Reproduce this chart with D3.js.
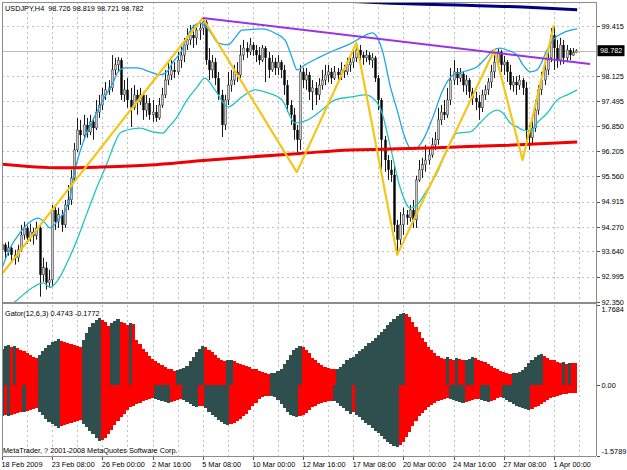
<!DOCTYPE html>
<html><head><meta charset="utf-8">
<script src="https://cdn.jsdelivr.net/npm/d3@7"></script>
<style>
body{margin:0;background:#fff}
svg{display:block}
text{font-family:"Liberation Sans",Arial,sans-serif;font-size:7.3px;fill:#000}
</style>
</head><body>
<svg id="c" width="627" height="470"></svg>
<script>
// ---------------- DATA ----------------
const symbolTitle = "USDJPY,H4  98.726 98.819 98.721 98.782";
const gatorTitle = "Gator(12,6,3) 0.4743 -0.1772";
const copyright = "MetaTrader, ? 2001-2008 MetaQuotes Software Corp.";

const opens = [93.68,93.81,93.63,93.73,93.55,93.48,93.68,94.06,94.24,93.99,
94.14,94.04,94.24,93.04,93.22,92.84,92.91,94.70,94.40,94.58,
94.32,94.83,94.96,95.52,96.24,96.75,96.62,96.88,96.70,96.96,
96.80,97.21,97.39,97.65,97.78,97.83,98.29,98.42,98.54,97.65,
97.78,97.52,97.32,97.65,97.47,97.65,97.26,97.44,97.14,97.21,
97.06,97.39,97.65,98.03,98.16,98.29,98.24,98.54,98.67,98.93,
99.06,99.18,99.11,99.31,99.36,99.52,98.54,98.29,98.49,98.08,
97.65,96.88,97.52,97.90,98.03,98.24,98.16,98.67,98.85,98.75,
98.93,98.80,98.67,98.54,98.85,98.60,98.29,98.49,98.34,98.49,
98.29,97.90,97.39,97.14,96.75,96.50,98.24,98.03,98.16,97.73,
97.83,97.65,97.90,98.03,98.16,98.24,98.08,98.24,98.16,98.29,
98.24,98.42,98.49,98.60,98.80,98.67,98.60,98.67,98.54,98.60,
98.08,97.52,96.50,95.98,95.73,95.60,94.32,93.94,94.32,94.58,
94.50,94.70,94.45,95.47,95.73,95.86,95.98,96.11,96.37,96.50,
97.01,97.21,97.14,97.52,98.03,98.24,98.08,98.19,97.90,98.03,
97.73,97.57,97.47,97.32,97.65,97.78,97.98,98.24,98.49,98.75,
98.42,98.49,98.24,97.90,97.98,97.90,98.03,97.83,96.75,96.55,
96.80,97.26,97.78,98.03,98.29,98.60,99.18,98.85,98.54,98.93,
98.60,98.80,98.67,98.73];
const highs = [93.99,93.86,93.89,93.76,93.68,93.81,94.32,94.40,94.30,94.35,
94.24,94.40,94.30,93.48,93.37,93.17,94.83,94.83,94.76,94.70,
94.96,95.34,95.73,96.42,97.06,97.01,97.14,97.06,97.14,97.06,
97.52,97.65,97.83,97.98,98.03,98.67,98.60,98.62,98.60,98.03,
98.08,97.83,97.90,97.78,97.83,97.73,97.65,97.57,97.52,97.39,
97.57,97.83,98.29,98.49,98.54,98.49,98.75,98.93,99.11,99.36,
99.44,99.44,99.47,99.52,99.62,99.57,98.85,98.67,98.60,98.24,
97.78,97.65,98.24,98.29,98.42,98.49,98.93,99.06,99.00,99.11,
99.00,98.93,98.88,98.93,98.90,98.75,98.67,98.60,98.67,98.54,
98.42,98.03,97.52,97.32,96.88,98.42,98.34,98.34,98.24,98.03,
97.98,98.08,98.29,98.42,98.42,98.34,98.39,98.34,98.49,98.42,
98.60,98.67,98.80,98.95,98.93,98.75,98.80,98.75,98.72,98.65,
98.16,97.57,96.60,96.11,95.98,95.86,94.45,94.65,94.76,94.70,
94.83,94.96,95.58,95.98,96.04,96.37,96.29,96.55,96.70,97.32,
97.39,97.52,97.83,98.34,98.54,98.34,98.34,98.24,98.16,98.08,
97.83,97.73,97.65,97.78,97.90,98.08,98.42,98.67,98.85,98.80,
98.65,98.54,98.42,98.13,98.13,98.16,98.08,97.98,96.88,97.01,
97.52,97.90,98.24,98.54,98.75,99.36,99.41,99.06,99.11,99.06,
98.93,98.85,98.85,98.82];
const lows = [93.48,93.43,93.53,93.37,93.30,93.37,93.63,93.94,93.83,93.89,
93.81,93.94,92.48,92.86,92.66,92.71,92.73,94.19,94.24,94.14,
94.24,94.70,94.83,95.42,96.19,96.37,96.50,96.55,96.62,96.50,
96.75,97.06,97.26,97.52,97.65,97.73,98.16,98.24,97.52,97.47,
97.32,96.83,97.26,97.14,97.39,97.01,97.09,97.01,96.96,96.96,
97.01,97.32,97.57,97.90,98.03,98.08,98.16,98.34,98.49,98.80,
98.93,98.85,98.93,99.06,99.18,98.42,98.03,98.08,97.90,97.52,
96.57,96.75,97.39,97.73,97.90,97.98,98.08,98.54,98.60,98.67,
98.65,98.49,98.42,98.49,97.98,98.08,98.24,98.16,98.16,98.08,
97.65,97.21,96.88,96.50,96.19,96.24,97.83,97.78,97.52,97.26,
97.39,97.52,97.78,97.90,97.98,97.93,98.03,97.98,98.03,98.08,
98.16,98.24,98.34,98.49,98.49,98.42,98.49,98.42,98.34,97.98,
97.26,95.60,95.68,95.47,95.42,94.14,93.55,93.81,94.06,94.32,
94.40,94.24,94.24,95.42,95.52,95.68,95.86,96.04,96.24,96.37,
96.88,97.01,97.06,97.39,97.90,97.90,97.98,97.73,97.65,97.57,
97.39,97.26,97.01,97.21,97.52,97.65,97.83,98.08,98.34,98.24,
98.16,97.98,97.78,97.73,97.65,97.78,97.65,96.37,96.24,96.37,
96.70,97.14,97.65,97.90,98.16,98.49,98.29,98.34,98.42,98.44,
98.49,98.54,98.65,98.72];
const closes = [93.81,93.63,93.73,93.55,93.48,93.68,94.06,94.24,93.99,94.14,
94.04,94.24,93.04,93.22,92.84,92.91,94.70,94.40,94.58,94.32,
94.83,94.96,95.52,96.24,96.75,96.62,96.88,96.70,96.96,96.80,
97.21,97.39,97.65,97.78,97.83,98.29,98.42,98.54,97.65,97.78,
97.52,97.32,97.65,97.47,97.65,97.26,97.44,97.14,97.21,97.06,
97.39,97.65,98.03,98.16,98.29,98.24,98.54,98.67,98.93,99.06,
99.18,99.11,99.31,99.36,99.52,98.54,98.29,98.49,98.08,97.65,
96.88,97.52,97.90,98.03,98.24,98.16,98.67,98.85,98.75,98.93,
98.80,98.67,98.54,98.85,98.60,98.29,98.49,98.34,98.49,98.29,
97.90,97.39,97.14,96.75,96.50,98.24,98.03,98.16,97.73,97.83,
97.65,97.90,98.03,98.16,98.24,98.08,98.24,98.16,98.29,98.24,
98.42,98.49,98.60,98.80,98.67,98.60,98.67,98.54,98.60,98.08,
97.52,96.50,95.98,95.73,95.60,94.32,93.94,94.32,94.58,94.50,
94.70,94.45,95.47,95.73,95.86,95.98,96.11,96.37,96.50,97.01,
97.21,97.14,97.52,98.03,98.24,98.08,98.19,97.90,98.03,97.73,
97.57,97.47,97.32,97.65,97.78,97.98,98.24,98.49,98.75,98.42,
98.49,98.24,97.90,97.98,97.90,98.03,97.83,96.75,96.55,96.80,
97.26,97.78,98.03,98.29,98.60,99.18,98.85,98.54,98.93,98.60,
98.80,98.67,98.73,98.78];

// [bar index, price] samples of the indicator lines
const bandUpper = [[0,93.21],[2.6,93.73],[5.7,94.11],[8.9,94.39],[11.5,94.49],[13.7,94.37],[15.3,94.24],[17.9,94.44],[20.7,94.78],[21.7,95.03],[23.3,95.73],[25.8,96.42],[29,97.01],[32.2,97.52],[35.4,97.96],[37,98.24],[39.2,98.34],[43,98.34],[47.2,98.24],[50.4,98.16],[52.6,98.24],[54.5,98.49],[57.4,98.80],[59,99.13],[60.9,99.39],[63.1,99.49],[64.7,99.42],[67,99.19],[68.9,98.98],[72.1,98.93],[74.3,99.11],[76.5,99.31],[82.9,99.34],[87.1,99.23],[90.2,99.06],[92.5,98.60],[94.1,98.29],[96.6,98.42],[100.8,98.60],[106.2,98.80],[110.3,98.93],[114.8,99.13],[118,99.24],[119.6,99.13],[121.5,98.72],[123.7,97.90],[126,97.26],[128.2,96.62],[130.1,96.29],[131.7,96.26],[134.2,96.49],[137.4,97.08],[140.6,97.78],[143.8,98.16],[147,98.24],[151.5,98.37],[154.7,98.63],[156.6,98.80],[158.8,98.85],[161,98.80],[164.2,98.67],[166.1,98.42],[168.4,98.24],[170.6,98.29],[173.8,98.80],[175.7,99.06],[178.9,99.24],[183.4,99.34]];
const bandLower = [[0,92.13],[3.5,92.31],[9.9,92.72],[13.1,92.83],[15.3,92.72],[17.9,92.91],[20.7,93.34],[23.9,93.93],[27.1,94.62],[30.3,95.29],[33.5,95.90],[36,96.42],[37.6,96.67],[39.9,96.75],[44,96.80],[48.1,96.70],[51.3,96.67],[52.9,96.80],[55.8,97.08],[59,97.52],[62.2,97.85],[64.7,98.08],[67.9,97.78],[72.1,97.34],[76.5,97.60],[80.7,97.78],[84.8,97.70],[89.3,97.52],[93.4,96.93],[97.6,97.01],[102,97.26],[106.2,97.52],[111.6,97.60],[115.8,97.65],[118.9,97.52],[121.2,97.18],[123.7,96.37],[126.9,95.29],[130.1,94.75],[132.3,94.83],[135.5,95.21],[138.7,95.65],[141.9,96.24],[145.1,96.67],[149.2,96.70],[152.4,96.93],[155.6,97.18],[157.8,97.26],[159.8,97.18],[162,96.93],[164.2,96.83],[166.1,96.75],[168.4,96.70],[170.6,96.93],[173.8,97.18],[177,97.52],[180.2,97.65],[183.4,97.78]];
const maRed = [[-1,95.88],[18.5,95.78],[31.3,95.80],[47.2,95.85],[63.1,95.96],[79,96.06],[95,96.15],[111,96.24],[123.7,96.26],[142.9,96.31],[158.8,96.35],[183.4,96.44]];
const maNavy = [[100,100.09],[112,100.04],[124,100.00],[145,99.95],[166,99.90],[183.4,99.83]];
const zigzag = [[-1,92.96],[64,99.62],[94,95.67],[113,98.98],[126,93.55],[157,98.80],[166,95.98],[176,99.44]];
const trendline = [[64,99.62],[187.5,98.44]];

const gatorUp = [0.80,0.85,0.88,0.84,0.86,0.82,
0.78,0.74,0.70,0.66,0.62,0.60,
0.66,0.74,0.82,0.88,0.94,0.98,1.02,
0.98,0.95,0.92,0.90,0.88,0.86,0.84,
1.00,1.15,1.28,1.38,1.44,1.48,
1.44,1.40,1.30,1.36,1.42,1.45,1.40,1.36,1.32,1.38,1.34,
1.00,0.90,0.80,0.72,0.64,0.58,0.52,0.48,0.44,0.40,0.36,0.34,0.30,0.32,0.35,0.38,0.42,
0.52,0.62,0.72,0.80,0.86,0.84,0.78,0.72,
0.66,0.60,0.56,0.52,0.54,0.56,0.52,0.48,0.46,0.44,0.42,0.40,0.36,0.34,
0.30,0.28,0.26,0.24,0.25,0.27,0.30,0.36,0.46,0.56,
0.66,0.76,0.82,0.86,0.84,0.78,0.70,0.60,0.54,0.48,
0.44,0.40,0.38,0.36,0.34,0.36,0.40,0.46,0.54,0.60,
0.62,0.68,0.74,0.80,0.86,0.92,0.98,1.04,1.10,1.16,1.24,1.32,1.40,1.46,1.52,1.56,1.58,1.56,
1.50,1.40,1.28,1.16,1.04,0.94,0.84,0.76,0.70,0.64,
0.60,0.58,0.62,0.58,0.56,0.60,0.58,0.54,0.56,0.58,0.62,0.60,0.56,0.52,0.50,0.46,0.42,0.38,0.34,0.30,
0.28,0.26,0.24,0.25,0.26,0.28,0.32,0.40,
0.48,0.56,0.62,0.66,0.68,0.64,0.60,0.56,0.54,0.50,
0.48,0.50,0.47,0.49,0.48,0.4743];
const gatorDown = [-0.70,-0.68,-0.69,-0.66,-0.64,-0.62,-0.60,-0.61,-0.58,-0.56,-0.54,-0.52,
-0.60,-0.68,-0.76,-0.82,-0.88,-0.92,-0.95,
-0.92,-0.90,-0.88,-0.85,-0.82,-0.80,-0.78,
-0.86,-0.94,-1.02,-1.10,-1.18,-1.24,
-1.22,-1.18,-1.10,-1.00,-0.90,-0.80,-0.72,-0.64,-0.56,-0.50,-0.46,-0.42,
-0.40,-0.36,-0.34,-0.32,-0.30,-0.32,-0.34,-0.36,-0.38,-0.40,-0.38,-0.36,-0.34,-0.32,-0.34,-0.38,
-0.42,-0.46,-0.50,-0.48,-0.46,-0.52,-0.60,-0.66,
-0.72,-0.78,-0.82,-0.86,-0.90,-0.88,-0.84,-0.80,-0.76,-0.70,-0.64,-0.56,-0.48,-0.40,
-0.32,-0.28,-0.25,-0.24,-0.25,-0.28,-0.34,-0.42,-0.52,-0.60,
-0.66,-0.70,-0.72,-0.70,-0.66,-0.62,-0.56,-0.50,-0.46,-0.42,
-0.40,-0.38,-0.36,-0.35,-0.36,-0.40,-0.46,-0.52,-0.58,-0.64,
-0.60,-0.66,-0.72,-0.78,-0.84,-0.90,-0.96,-1.02,-1.08,-1.14,-1.20,-1.26,-1.32,-1.36,-1.38,-1.34,-1.26,-1.16,
-1.04,-0.92,-0.80,-0.70,-0.62,-0.55,-0.50,-0.45,-0.40,-0.37,
-0.34,-0.32,-0.30,-0.31,-0.33,-0.35,-0.38,-0.40,-0.38,-0.36,-0.34,-0.32,-0.31,-0.33,-0.36,-0.38,-0.36,-0.33,-0.30,-0.28,
-0.30,-0.34,-0.38,-0.42,-0.46,-0.50,-0.52,-0.54,
-0.56,-0.54,-0.50,-0.46,-0.42,-0.38,-0.34,-0.30,-0.27,-0.24,
-0.22,-0.21,-0.20,-0.19,-0.18,-0.1772];

const priceTicks = [92.350,92.995,93.640,94.270,94.915,95.560,96.205,96.850,97.495,98.125,99.415];
const hiddenGridPrice = 98.770;
const bidPrice = 98.782;
const gatorTicks = [1.7684, 0.00, -1.5789];
const gatorTickLabels = ["1.7684","0.00","-1.5789"];
const dateTickBars = [0,16,32,48,64,80,96,112,128,144,160,176];
const dateTickLabels = ["18 Feb 2009","23 Feb 08:00","26 Feb 00:00","2 Mar 16:00","5 Mar 08:00","10 Mar 00:00","12 Mar 16:00","17 Mar 08:00","20 Mar 00:00","24 Mar 16:00","27 Mar 08:00","1 Apr 00:00"];

// ---------------- LAYOUT ----------------
const W = 627, H = 470;
const L = 2, R = 596, mainTop = 2, mainBot = 302, gTop = 305, gBot = 456;
const svg = d3.select("#c");
svg.append("rect").attr("width", W).attr("height", H).attr("fill", "#fff");

const x = d3.scaleLinear().domain([0, 189.4]).range([L, R]);
const y = d3.scaleLinear().domain([92.35, 99.415]).range([301.7, 26]);
const gy = d3.scaleLinear().domain([-1.5789, 1.7684]).range([gBot, gTop]);

const defs = svg.append("defs");
defs.append("clipPath").attr("id", "clipMain").append("rect")
  .attr("x", L).attr("y", mainTop).attr("width", R - L).attr("height", mainBot - mainTop);
defs.append("clipPath").attr("id", "clipGator").append("rect")
  .attr("x", L).attr("y", gTop).attr("width", R - L).attr("height", gBot - gTop);

const gridColor = "#c2c2c2";
const grid = svg.append("g").attr("shape-rendering", "crispEdges")
  .attr("stroke", gridColor).attr("stroke-dasharray", "2,3");
const vBars = d3.range(8, 190, 8);
grid.selectAll("line.vm").data(vBars).join("line").attr("class", "vm")
  .attr("x1", d => Math.round(x(d)) + 0.5).attr("x2", d => Math.round(x(d)) + 0.5)
  .attr("y1", mainTop).attr("y2", mainBot);
grid.selectAll("line.vg").data(vBars).join("line").attr("class", "vg")
  .attr("x1", d => Math.round(x(d)) + 0.5).attr("x2", d => Math.round(x(d)) + 0.5)
  .attr("y1", gTop).attr("y2", gBot);
grid.selectAll("line.h").data(priceTicks.slice(1).concat([hiddenGridPrice])).join("line").attr("class", "h")
  .attr("x1", L).attr("x2", R)
  .attr("y1", d => Math.round(y(d)) + 0.5).attr("y2", d => Math.round(y(d)) + 0.5);

// bid line
svg.append("line").attr("x1", L).attr("x2", R)
  .attr("y1", Math.round(y(bidPrice)) + 0.5).attr("y2", Math.round(y(bidPrice)) + 0.5)
  .attr("stroke", "#bdbdbd").attr("shape-rendering", "crispEdges");

// ---------------- CANDLES ----------------
const main = svg.append("g").attr("clip-path", "url(#clipMain)");
const candles = main.append("g");
const idx = d3.range(closes.length);
candles.selectAll("line.wick").data(idx).join("line").attr("class", "wick")
  .attr("x1", i => Math.round(x(i)) + 0.5).attr("x2", i => Math.round(x(i)) + 0.5)
  .attr("y1", i => y(highs[i])).attr("y2", i => y(lows[i]))
  .attr("stroke", "#000").attr("stroke-width", 0.9);
candles.selectAll("rect.body").data(idx).join("rect").attr("class", "body")
  .attr("x", i => Math.round(x(i)) + 0.5 - 1.2).attr("width", 2.4)
  .attr("y", i => y(Math.max(opens[i], closes[i])))
  .attr("height", i => Math.max(0.8, Math.abs(y(opens[i]) - y(closes[i]))))
  .attr("fill", i => closes[i] >= opens[i] ? "#c8c8c8" : "#000")
  .attr("stroke", i => closes[i] >= opens[i] ? "#333" : "none")
  .attr("stroke-width", 0.5);

// ---------------- INDICATORS ----------------
const smooth = d3.line().x(d => x(d[0])).y(d => y(d[1])).curve(d3.curveMonotoneX);
const straight = d3.line().x(d => x(d[0])).y(d => y(d[1]));
main.append("path").attr("d", smooth(bandLower)).attr("fill", "none").attr("stroke", "#20c4c4").attr("stroke-width", 1.3);
main.append("path").attr("d", smooth(bandUpper)).attr("fill", "none").attr("stroke", "#1ea6e6").attr("stroke-width", 1.3);
main.append("path").attr("d", smooth(maRed)).attr("fill", "none").attr("stroke", "#f00000").attr("stroke-width", 3);
main.append("path").attr("d", smooth(maNavy)).attr("fill", "none").attr("stroke", "#000080").attr("stroke-width", 3);
main.append("path").attr("d", straight(zigzag)).attr("fill", "none").attr("stroke", "#f5c518").attr("stroke-width", 2.2).attr("stroke-linejoin", "round");
main.append("path").attr("d", straight(trendline)).attr("fill", "none").attr("stroke", "#9a32e6").attr("stroke-width", 2);

// ---------------- GATOR ----------------
const gator = svg.append("g").attr("clip-path", "url(#clipGator)").attr("shape-rendering", "crispEdges");
const bx0 = i => Math.round(x(i - 0.5));
const bx1 = i => Math.round(x(i + 0.5));
gator.selectAll("rect.up").data(idx).join("rect").attr("class", "up")
  .attr("x", bx0).attr("width", i => bx1(i) - bx0(i))
  .attr("y", i => gy(gatorUp[i])).attr("height", i => gy(0) - gy(gatorUp[i]))
  .attr("fill", i => (i === 0 || gatorUp[i] >= gatorUp[i - 1]) ? "#2f4f4f" : "#ff0000");
gator.selectAll("rect.dn").data(idx).join("rect").attr("class", "dn")
  .attr("x", bx0).attr("width", i => bx1(i) - bx0(i))
  .attr("y", gy(0)).attr("height", i => gy(gatorDown[i]) - gy(0))
  .attr("fill", i => (i === 0 || gatorDown[i] <= gatorDown[i - 1]) ? "#2f4f4f" : "#ff0000");

// ---------------- FRAME ----------------
const frame = svg.append("g").attr("stroke", "#8c8c8c").attr("shape-rendering", "crispEdges");
frame.append("line").attr("x1", L + 0.5).attr("x2", L + 0.5).attr("y1", mainTop).attr("y2", gBot);
frame.append("line").attr("x1", L).attr("x2", R).attr("y1", mainTop + 0.5).attr("y2", mainTop + 0.5);
frame.append("rect").attr("x", L).attr("y", mainBot).attr("width", R - L).attr("height", 2).attr("fill", "#8c8c8c").attr("stroke", "none");
frame.append("line").attr("x1", R + 0.5).attr("x2", R + 0.5).attr("y1", mainTop).attr("y2", gBot);
frame.append("line").attr("x1", L).attr("x2", R).attr("y1", gBot + 0.5).attr("y2", gBot + 0.5);

// ---------------- AXES ----------------
function styleAxis(g) {
  g.select(".domain").remove();
  g.attr("font-family", null).attr("font-size", null);
  g.selectAll("line").attr("stroke", "#555").attr("shape-rendering", "crispEdges");
  g.selectAll("text").attr("fill", "#000");
}
const yAxis = d3.axisRight(y).tickValues(priceTicks).tickSize(3).tickPadding(2).tickFormat(d3.format(".3f"));
svg.append("g").attr("transform", `translate(${R + 0.5},0)`).call(yAxis).call(styleAxis);

const gAxis = d3.axisRight(gy).tickValues(gatorTicks).tickSize(3).tickPadding(2)
  .tickFormat((d, i) => gatorTickLabels[i]);
const gAx = svg.append("g").attr("transform", `translate(${R + 0.5},0)`).call(gAxis).call(styleAxis);
gAx.selectAll(".tick text").attr("dy", d => d === gatorTicks[0] ? "0.95em" : d === gatorTicks[2] ? "-0.35em" : "0.32em");

const xAxis = d3.axisBottom(x).tickValues(dateTickBars).tickSize(3).tickFormat((d, i) => dateTickLabels[i]);
const xAx = svg.append("g").attr("transform", `translate(0,${gBot + 0.5})`).call(xAxis).call(styleAxis);
xAx.selectAll(".tick text").attr("text-anchor", "start").attr("x", -1).attr("y", 10.5).attr("dy", 0);

// bid price box
const by = y(bidPrice);
svg.append("rect").attr("x", R + 1.5).attr("y", by - 5.5).attr("width", 27).attr("height", 11).attr("fill", "#000");
svg.append("text").attr("x", R + 4).attr("y", by).attr("dy", "0.35em").style("fill", "#fff").text(d3.format(".3f")(bidPrice));

// titles
svg.append("text").attr("x", 5).attr("y", 10.5).attr("xml:space", "preserve").text(symbolTitle);
svg.append("text").attr("x", 5).attr("y", 315.5).text(gatorTitle);
svg.append("text").attr("x", 3).attr("y", 452.5).text(copyright);
</script>
</body></html>
